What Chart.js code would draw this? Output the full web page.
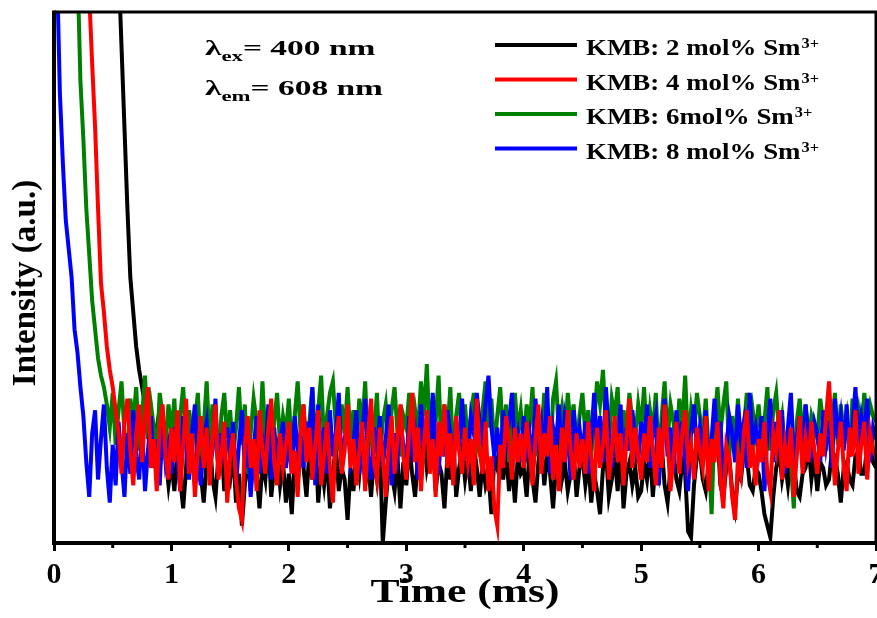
<!DOCTYPE html>
<html>
<head>
<meta charset="utf-8">
<script src="https://cdn.jsdelivr.net/npm/chart.js@4/dist/chart.umd.min.js"></script>
<style>
  html, body { margin: 0; padding: 0; background: #fff; overflow: hidden; }
  canvas { display: block; }
</style>
</head>
<body>
<canvas id="grafico" width="877" height="618"></canvas>
<script>
// time grid: 0 .. 7 ms, every 0.025 ms (rows below = 0.5 ms each)
const passo = 0.025;
const tempos = Array.from({ length: 281 }, (_, i) => +(i * passo).toFixed(3));

const rotulos = ["KMB: 2 mol% Sm", "KMB: 4 mol% Sm", "KMB: 6mol% Sm", "KMB: 8 mol% Sm"];
const cores = ["#000000", "#ff0000", "#008000", "#0000ff"];

// intensity, arbitrary units
const sm2 = [
    620, 600, 580, 560, 540, 520, 500, 475, 450, 425, 400, 375, 350, 325, 300, 275, 250, 225, 200, 170,
    140, 120, 100, 86, 72, 58, 46, 40, 34, 30, 27, 24, 21, 23, 17, 20, 13, 18, 15, 10,
    14, 9, 16, 11, 6, 13, 23, 15, 10, 17, 12, 7, 14, 19, 11, 8, 15, 18, 9, 13,
    11, 16, 7, 12, 3, 10, 15, 9, 17, 12, 6, 14, 11, 18, 8, 13, 16, 10, 14, 7,
    12, 5, 15, 10, 18, 13, 8, 16, 11, 19, 7, 14, 10, 15, 6, 12, 17, 9, 13, 11,
    4, 13, 9, 16, 12, 18, 10, 14, 8, 15, 11, 17, 0, 7, 13, 12, 9, 15, 6, 14,
    10, 17, 12, 8, 15, 11, 19, 13, 16, 20, 9, 14, 12, 6, 15, 11, 18, 8, 13, 16,
    11, 15, 9, 17, 13, 8, 14, 10, 12, 5, 15, 13, 18, 11, 16, 9, 14, 7, 15, 12,
    13, 8, 16, 11, 7, 14, 18, 10, 15, 12, 6, 13, 17, 11, 14, 9, 12, 16, 8, 13,
    15, 10, 14, 7, 12, 9, 5, 13, 16, 8, 11, 15, 9, 17, 6, 12, 14, 10, 13, 8,
    9, 14, 11, 16, 8, 15, 12, 17, 10, 7, 13, 16, 11, 9, 14, 12, 2, 1, 10, 15,
    16, 11, 9, 14, 12, 17, 19, 10, 8, 13, 15, 9, 6, 12, 11, 16, 15, 10, 9, 13,
    12, 9, 5, 3, 1, 8, 13, 16, 11, 14, 10, 15, 14, 9, 8, 12, 13, 17, 11, 15,
    9, 14, 13, 10, 11, 16, 15, 12, 7, 13, 14, 11, 10, 15, 16, 12, 12, 17, 18, 14,
    13
];
const sm4 = [
    400, 380, 360, 340, 315, 290, 265, 240, 200, 160, 125, 108, 95, 83, 72, 58, 45, 40, 34, 30,
    27, 23, 19, 12, 21, 25, 16, 10, 19, 24, 14, 22, 27, 13, 18, 9, 20, 24, 15, 11,
    20, 14, 23, 9, 17, 25, 12, 19, 8, 16, 22, 13, 20, 10, 18, 24, 11, 15, 21, 7,
    15, 19, 11, 6, 4, 17, 22, 13, 18, 9, 23, 16, 12, 20, 25, 14, 10, 19, 13, 17,
    21, 12, 16, 8, 19, 24, 14, 20, 11, 17, 23, 10, 15, 21, 13, 7, 18, 22, 12, 16,
    24, 13, 18, 10, 16, 21, 9, 19, 25, 14, 11, 20, 15, 8, 17, 22, 12, 18, 24, 15,
    11, 19, 26, 14, 20, 9, 17, 23, 12, 18, 8, 21, 15, 24, 13, 19, 10, 22, 16, 12,
    20, 14, 18, 10, 25, 16, 12, 21, 9, 15, 6, 3, 17, 13, 22, 18, 11, 20, 14, 19,
    13, 21, 16, 10, 18, 24, 12, 19, 15, 22, 11, 17, 9, 20, 14, 23, 16, 11, 19, 13,
    18, 12, 21, 15, 9, 20, 13, 17, 23, 11, 16, 22, 14, 19, 10, 18, 25, 13, 20, 15,
    11, 19, 14, 22, 16, 10, 20, 13, 24, 18, 9, 15, 21, 12, 19, 23, 14, 17, 11, 20,
    16, 13, 22, 9, 18, 14, 21, 11, 6, 17, 15, 8, 4, 15, 12, 19, 23, 13, 17, 10,
    18, 14, 21, 12, 9, 19, 16, 23, 11, 17, 13, 20, 8, 15, 22, 12, 18, 14, 21, 16,
    12, 19, 15, 22, 28, 18, 10, 16, 21, 13, 9, 20, 15, 23, 12, 17, 21, 11, 19, 16,
    15
];
const sm6 = [
    300, 280, 260, 240, 220, 200, 175, 140, 100, 80, 70, 58, 50, 42, 37, 32, 29, 27, 24, 20,
    26, 17, 23, 28, 19, 14, 25, 21, 27, 16, 22, 29, 18, 24, 20, 15, 26, 22, 17, 24,
    19, 25, 14, 22, 27, 18, 23, 16, 21, 26, 15, 20, 28, 17, 24, 19, 13, 22, 26, 18,
    23, 15, 20, 27, 17, 24, 12, 19, 25, 21, 16, 28, 18, 23, 14, 21, 26, 17, 22, 19,
    25, 16, 22, 28, 19, 24, 15, 21, 27, 18, 23, 29, 17, 22, 26, 28, 20, 16, 24, 19,
    27, 18, 23, 16, 25, 20, 28, 15, 22, 19, 26, 14, 21, 24, 17, 23, 27, 19, 15, 22,
    20, 26, 17, 23, 19, 28, 22, 31, 18, 25, 21, 29, 16, 24, 19, 27, 14, 22, 26, 18,
    24, 17, 22, 26, 19, 15, 23, 28, 20, 25, 16, 22, 27, 18, 24, 14, 21, 26, 19, 23,
    17, 24, 20, 27, 15, 22, 18, 26, 21, 14, 25, 28, 19, 23, 17, 26, 20, 24, 16, 22,
    26, 19, 23, 15, 21, 28, 24, 30, 20, 17, 25, 22, 27, 16, 23, 19, 26, 21, 18, 24,
    20, 27, 17, 23, 19, 26, 14, 22, 28, 18, 24, 21, 16, 25, 20, 29, 17, 23, 19, 26,
    22, 18, 25, 16, 5, 21, 27, 19, 24, 28, 15, 22, 18, 25, 13, 20, 26, 17, 23, 19,
    24, 18, 21, 27, 16, 23, 26, 19, 22, 15, 20, 14, 6, 21, 25, 18, 24, 17, 22, 20,
    18, 25, 21, 16, 23, 20, 26, 17, 24, 19, 22, 15, 25, 20, 23, 18, 26, 21, 24, 22,
    21
];
const sm8 = [
    140, 100, 78, 66, 56, 51, 46, 37, 33, 27, 22, 14, 8, 19, 23, 11, 18, 24, 13, 7,
    17, 10, 21, 14, 8, 19, 12, 23, 15, 11, 20, 9, 16, 22, 13, 18, 10, 21, 14, 17,
    12, 20, 15, 9, 22, 17, 11, 19, 24, 14, 10, 18, 21, 13, 16, 25, 12, 19, 15, 20,
    14, 21, 10, 17, 23, 13, 19, 8, 16, 22, 12, 18, 15, 24, 11, 20, 14, 17, 21, 13,
    18, 12, 22, 16, 19, 13, 21, 17, 27, 10, 24, 14, 20, 12, 23, 15, 19, 26, 13, 18,
    21, 14, 17, 23, 12, 19, 25, 15, 11, 20, 16, 22, 13, 18, 24, 10, 19, 15, 21, 17,
    13, 22, 16, 19, 11, 24, 17, 21, 14, 26, 18, 12, 20, 15, 23, 19, 13, 21, 16, 25,
    17, 14, 22, 19, 26, 21, 18, 24, 29, 20, 15, 20, 13, 23, 17, 21, 26, 16, 19, 14,
    22, 16, 19, 13, 25, 18, 21, 15, 27, 12, 20, 17, 24, 14, 22, 19, 11, 23, 17, 20,
    15, 21, 12, 18, 26, 16, 22, 14, 27, 19, 13, 21, 17, 24, 11, 20, 16, 23, 18, 14,
    21, 17, 24, 13, 19, 22, 10, 18, 25, 15, 20, 12, 23, 17, 21, 14, 9, 19, 24, 16,
    20, 15, 23, 12, 18, 25, 17, 21, 11, 16, 22, 19, 14, 24, 18, 21, 13, 26, 17, 20,
    16, 22, 9, 19, 25, 14, 21, 17, 23, 12, 20, 26, 15, 18, 22, 13, 24, 19, 16, 21,
    19, 14, 23, 17, 21, 13, 25, 18, 22, 16, 24, 15, 20, 27, 17, 22, 19, 25, 14, 20,
    18
];
const series = [sm2, sm4, sm6, sm8];
// black at the back, red on top
const ordem = [4, 1, 3, 2];

const fonte = "'Liberation Serif', 'Times New Roman', serif";

function textoEsticado(ctx, texto, x, y, tamanho, sx) {
    ctx.save();
    ctx.font = "bold " + tamanho + "px " + fonte;
    ctx.translate(x, y);
    ctx.scale(sx, 1);
    ctx.fillText(texto, 0, 0);
    const w = ctx.measureText(texto).width * sx;
    ctx.restore();
    return w;
}

const extras = {
    id: "extras",
    afterDatasetsDraw(chart) {
        const ctx = chart.ctx;
        const a = chart.chartArea;
        const xs = chart.scales.x;
        ctx.save();
        ctx.strokeStyle = "#000";
        ctx.fillStyle = "#000";
        ctx.lineCap = "butt";

        // frame
        ctx.lineWidth = 3;
        ctx.beginPath();
        ctx.moveTo(a.left, a.top);
        ctx.lineTo(a.right, a.top);
        ctx.lineTo(a.right, a.bottom);
        ctx.stroke();
        ctx.lineWidth = 4;
        ctx.beginPath();
        ctx.moveTo(a.left, a.top - 1.5);
        ctx.lineTo(a.left, a.bottom);
        ctx.lineTo(a.right + 1.5, a.bottom);
        ctx.stroke();

        // minor ticks
        ctx.lineWidth = 3;
        for (let v = 0.5; v < 7; v += 1) {
            const px = xs.getPixelForValue(v);
            ctx.beginPath();
            ctx.moveTo(px, a.bottom);
            ctx.lineTo(px, a.bottom + 5);
            ctx.stroke();
        }

        // axis titles
        ctx.textBaseline = "alphabetic";
        ctx.textAlign = "left";
        ctx.font = "bold 33px " + fonte;
        const tw = ctx.measureText("Time (ms)").width * 1.32;
        textoEsticado(ctx, "Time (ms)", (a.left + a.right) / 2 - tw / 2, 602, 33, 1.32);

        ctx.save();
        ctx.translate(35, 283);
        ctx.rotate(-Math.PI / 2);
        ctx.textAlign = "center";
        ctx.font = "bold 33px " + fonte;
        ctx.fillText("Intensity (a.u.)", 0, 0);
        ctx.restore();

        // excitation / emission note
        let x = 205;
        x += textoEsticado(ctx, "\u03bb", x, 55, 22, 1.52);
        x += textoEsticado(ctx, "ex", x, 61, 15, 1.52);
        textoEsticado(ctx, "= 400 nm", x, 55, 22, 1.52);
        x = 205;
        x += textoEsticado(ctx, "\u03bb", x, 95, 22, 1.52);
        x += textoEsticado(ctx, "em", x, 101, 15, 1.52);
        textoEsticado(ctx, "= 608 nm", x, 95, 22, 1.52);

        // legend
        rotulos.forEach((r, i) => {
            const y = 45 + i * 34.5;
            ctx.strokeStyle = cores[i];
            ctx.lineWidth = 4;
            ctx.beginPath();
            ctx.moveTo(495, y);
            ctx.lineTo(577, y);
            ctx.stroke();
            const w = textoEsticado(ctx, r, 586, y + 10, 23, 1.17);
            textoEsticado(ctx, "3+", 586 + w + 1, y + 3, 14, 1.17);
        });
        ctx.restore();
    }
};

new Chart(document.getElementById("grafico"), {
    type: "line",
    data: {
        datasets: series.map((s, i) => ({
            label: rotulos[i],
            data: tempos.map((t, k) => ({ x: t, y: s[k] })),
            borderColor: cores[i],
            borderWidth: 4,
            pointRadius: 0,
            tension: 0,
            order: ordem[i]
        }))
    },
    options: {
        responsive: false,
        devicePixelRatio: 1,
        animation: false,
        layout: { autoPadding: false, padding: { left: 54, top: 12, right: 1, bottom: 0 } },
        plugins: { legend: { display: false }, tooltip: { enabled: false } },
        scales: {
            x: {
                type: "linear",
                min: 0,
                max: 7,
                border: { display: false },
                grid: {
                    drawOnChartArea: false,
                    drawTicks: true,
                    tickLength: 8,
                    tickWidth: 3,
                    tickColor: "#000"
                },
                ticks: {
                    stepSize: 1,
                    color: "#000",
                    padding: 6,
                    maxRotation: 0,
                    font: { family: fonte, size: 30, weight: "bold" }
                },
                afterFit(scale) {
                    scale.height = 75;
                    scale.paddingLeft = 0;
                    scale.paddingRight = 0;
                }
            },
            y: {
                display: false,
                min: 0,
                max: 92
            }
        }
    },
    plugins: [extras]
});
</script>
</body>
</html>
